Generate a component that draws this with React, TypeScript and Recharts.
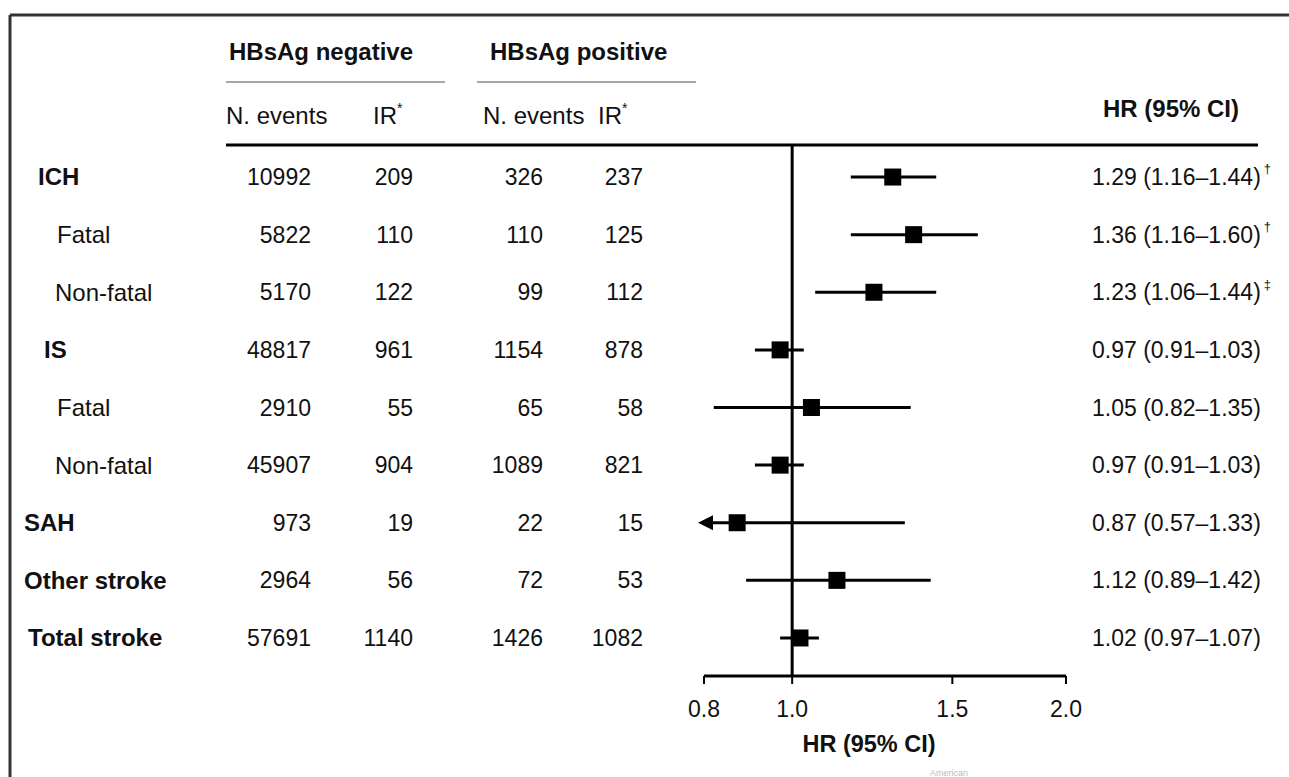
import React from 'react';
import { ComposedChart, Scatter, XAxis, YAxis, ReferenceLine, Label } from 'recharts';

const outcomes = ['ICH', 'Fatal', 'Non-fatal', 'IS', 'Fatal', 'Non-fatal', 'SAH', 'Other stroke', 'Total stroke'];
const isSubgroup = [false, true, true, false, true, true, false, false, false];
const negEvents = [10992, 5822, 5170, 48817, 2910, 45907, 973, 2964, 57691];
const negIR = [209, 110, 122, 961, 55, 904, 19, 56, 1140];
const posEvents = [326, 110, 99, 1154, 65, 1089, 22, 72, 1426];
const posIR = [237, 125, 112, 878, 58, 821, 15, 53, 1082];
const hrValues = [1.29, 1.36, 1.23, 0.97, 1.05, 0.97, 0.87, 1.12, 1.02];
const ciLow = [1.16, 1.16, 1.06, 0.91, 0.82, 0.91, 0.57, 0.89, 0.97];
const ciHigh = [1.44, 1.6, 1.44, 1.03, 1.35, 1.03, 1.33, 1.42, 1.07];
const footnotes = ['†', '†', '‡', '', '', '', '', '', ''];
const hrTicks = [0.8, 1.0, 1.5, 2.0];

const axisMin = hrTicks[0];
const axisMax = hrTicks[hrTicks.length - 1];

const rows = outcomes.map((name, i) => ({
  row: i,
  name,
  hr: hrValues[i],
  lo: Math.max(ciLow[i], axisMin),
  hi: ciHigh[i],
  clipped: ciLow[i] < axisMin,
}));
// left arrow where the CI runs past the axis
const arrows = rows.filter(r => r.clipped).map(r => ({ row: r.row, hr: axisMin }));

const FONT = '"Liberation Sans", Arial, Helvetica, sans-serif';
const INK = '#111';

// label x positions (main rows are not aligned in the original)
const labelX = [38, 57, 55, 44, 57, 55, 24, 24, 28];
const colRight = [311, 413, 543, 643];
const hrTextX = 1092;

const Square = (props: any) => {
  const { cx, cy } = props;
  if (cx == null || cy == null) return null;
  return <rect x={cx - 8.5} y={cy - 8.5} width={17} height={17} fill="#000" />;
};

const LeftArrow = (props: any) => {
  const { cx, cy } = props;
  if (cx == null || cy == null) return null;
  const tip = cx - 6;
  return <path d={`M${tip},${cy} L${tip + 15},${cy - 7.5} L${tip + 15},${cy + 7.5} Z`} fill="#000" />;
};

// table text for one row, placed on the row's y from the chart scale
const RowText = (props: any) => {
  const { cy, payload } = props;
  if (cy == null || !payload) return null;
  const i = payload.row as number;
  const cells = [negEvents[i], negIR[i], posEvents[i], posIR[i]];
  return (
    <g fontFamily={FONT} fill={INK}>
      <text x={labelX[i]} y={cy} dy="0.35em" fontSize={24} fontWeight={isSubgroup[i] ? 400 : 700}>
        {outcomes[i]}
      </text>
      {cells.map((v, k) => (
        <text key={k} x={colRight[k]} y={cy} dy="0.35em" fontSize={23} textAnchor="end">
          {v}
        </text>
      ))}
      <text x={hrTextX} y={cy} dy="0.35em" fontSize={23}>
        {`${hrValues[i].toFixed(2)} (${ciLow[i].toFixed(2)}–${ciHigh[i].toFixed(2)})`}
        {footnotes[i] && (
          <tspan fontSize={13} dy="-0.9em" dx="3">
            {footnotes[i]}
          </tspan>
        )}
      </text>
    </g>
  );
};

const AxisTitle = (props: any) => {
  const { viewBox } = props;
  if (!viewBox) return null;
  return (
    <text x={viewBox.x + viewBox.width / 2 - 16} y={viewBox.y + 76} textAnchor="middle"
      fontFamily={FONT} fontSize={23.5} fontWeight={700} fill={INK}>
      HR (95% CI)
    </text>
  );
};

export default function App() {
  return (
    <div style={{ position: 'fixed', left: 0, top: 0, width: 1289, height: 777, background: '#fff' }}>
      <ComposedChart width={1289} height={777} data={rows}
        margin={{ top: 145, right: 223, bottom: 21, left: 704 }}>
        <XAxis dataKey="hr" type="number" scale="log" domain={[axisMin, axisMax]} ticks={hrTicks}
          height={80} interval={0}
          tickFormatter={(v: number) => v.toFixed(1)}
          axisLine={{ stroke: '#000', strokeWidth: 3 }}
          tickLine={{ stroke: '#000', strokeWidth: 2 }} tickSize={8} tickMargin={17}
          tick={{ fontSize: 23, fill: INK, fontFamily: FONT }}>
          <Label content={<AxisTitle />} />
        </XAxis>
        <YAxis dataKey="row" type="number" reversed domain={[-0.556, 8.66]}
          ticks={rows.map(r => r.row)} width={0} hide />
        <ReferenceLine x={1} stroke="#000" strokeWidth={3} />
        {rows.map(r => (
          <ReferenceLine key={r.row} segment={[{ x: r.lo, y: r.row }, { x: r.hi, y: r.row }]}
            stroke="#000" strokeWidth={3} ifOverflow="visible" />
        ))}
        <Scatter data={rows} shape={<RowText />} isAnimationActive={false} />
        <Scatter data={rows} shape={<Square />} isAnimationActive={false} />
        <Scatter data={arrows} shape={<LeftArrow />} isAnimationActive={false} />
      </ComposedChart>
      <svg width={1289} height={777} style={{ position: 'absolute', left: 0, top: 0, pointerEvents: 'none' }}
        fontFamily={FONT} fill={INK}>
        <line x1={10} y1={15} x2={1289} y2={15} stroke="#333" strokeWidth={3} />
        <line x1={10} y1={15} x2={10} y2={777} stroke="#333" strokeWidth={3} />
        <text x={229} y={52} dy="0.35em" fontSize={24} fontWeight={700}>HBsAg negative</text>
        <text x={490} y={52} dy="0.35em" fontSize={24} fontWeight={700}>HBsAg positive</text>
        <line x1={226} y1={82} x2={445} y2={82} stroke="#888" strokeWidth={1.5} />
        <line x1={477} y1={82} x2={696} y2={82} stroke="#888" strokeWidth={1.5} />
        <text x={226} y={116} dy="0.35em" fontSize={24}>N. events</text>
        <text x={373} y={116} dy="0.35em" fontSize={24}>IR<tspan fontSize={14} dy="-0.8em">*</tspan></text>
        <text x={483} y={116} dy="0.35em" fontSize={24}>N. events</text>
        <text x={598} y={116} dy="0.35em" fontSize={24}>IR<tspan fontSize={14} dy="-0.8em">*</tspan></text>
        <text x={1103} y={109} dy="0.35em" fontSize={24} fontWeight={700}>HR (95% CI)</text>
        <line x1={226} y1={145} x2={1258} y2={145} stroke="#000" strokeWidth={3} />
        <text x={930} y={776} fontSize={9} fill="#bbb">American</text>
      </svg>
    </div>
  );
}
